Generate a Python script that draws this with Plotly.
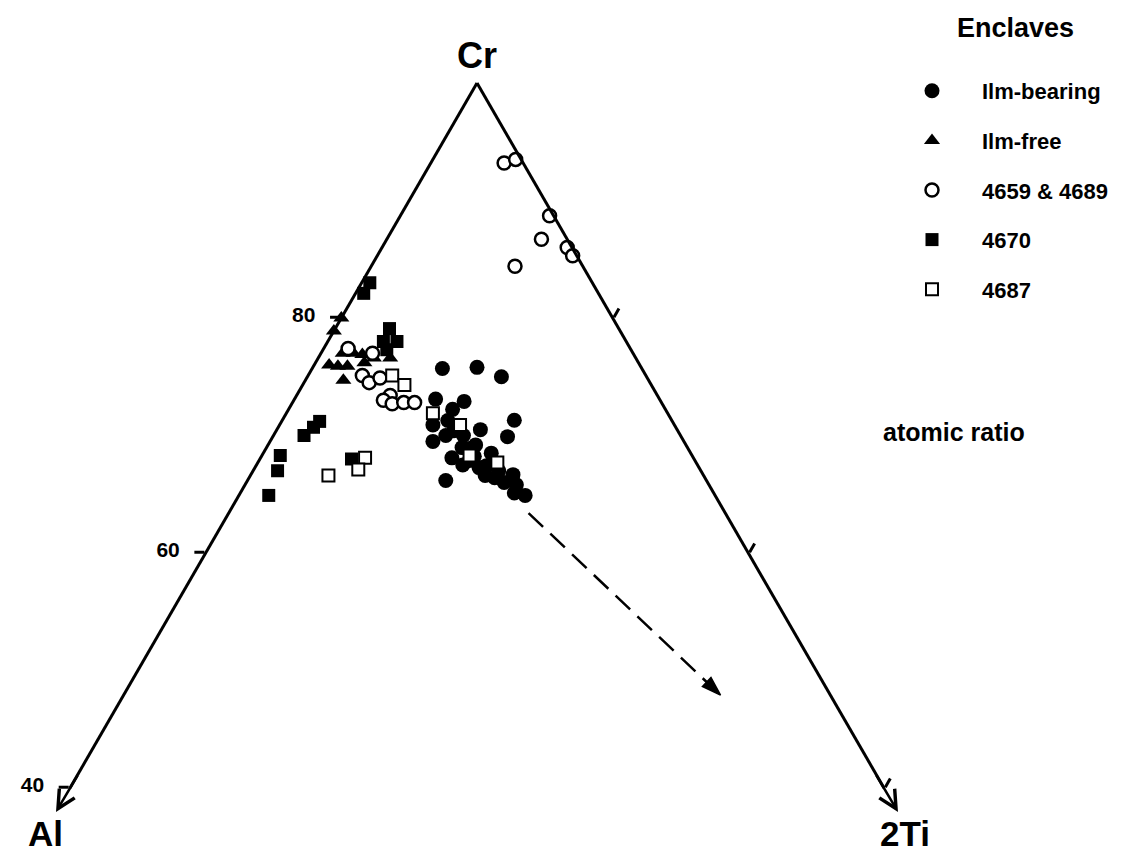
import plotly.graph_objects as go

# ---------------- data (Cr, Al, 2Ti in atomic %) ----------------
ilm_bearing_cr = [75.7, 75.8, 75.0, 73.1, 72.9, 72.3, 71.3, 70.9, 71.2, 69.5, 70.4, 70.0,
                  70.5, 69.9, 68.9, 69.2, 68.1, 67.8, 67.5, 67.2, 68.5, 67.5, 67.0, 66.6,
                  66.4, 66.6, 65.8, 65.1, 64.9, 66.1, 70.0, 68.9, 66.0, 68.3]
ilm_bearing_al = [14.7, 12.1, 10.7, 16.5, 14.5, 15.7, 11.6, 17.8, 16.5, 18.5, 16.5, 16.0,
                  14.5, 12.8, 16.6, 15.5, 17.8, 16.6, 17.3, 16.2, 14.7, 15.6, 14.9, 16.1,
                  15.5, 14.0, 14.2, 14.7, 14.0, 19.2, 17.3, 16.1, 15.0, 16.1]
ilm_bearing_ti = [9.6, 12.1, 14.3, 10.4, 12.6, 12.1, 17.1, 11.3, 12.2, 12.0, 13.1, 14.0,
                  15.0, 17.3, 14.4, 15.3, 14.1, 15.5, 15.2, 16.5, 16.8, 17.0, 18.1, 17.3,
                  18.1, 19.3, 20.0, 20.2, 21.1, 14.6, 12.7, 15.0, 19.0, 15.7]

ilm_free_cr = [80.0, 78.9, 77.0, 77.0, 76.9, 76.6, 76.6, 76.0, 75.9, 75.9, 74.7, 76.2]
ilm_free_al = [20.0, 21.1, 21.4, 20.6, 20.0, 19.3, 18.1, 22.9, 22.3, 21.6, 22.5, 20.2]
ilm_free_ti = [0.0, 0.0, 1.6, 2.4, 3.1, 4.1, 5.3, 1.1, 1.8, 2.5, 2.8, 3.6]

s4659_cr = [93.2, 93.5, 88.7, 86.7, 86.0, 85.3, 84.4, 77.4, 77.0, 75.1, 74.5, 74.9,
            73.4, 73.0, 72.7, 72.8, 72.8]
s4659_al = [1.4, 0.4, 0.3, 1.9, 0.35, 0.3, 5.0, 20.8, 19.2, 20.9, 20.7, 19.7,
            19.7, 20.4, 19.9, 19.0, 18.2]
s4659_ti = [5.4, 6.1, 11.0, 11.4, 13.65, 14.4, 10.6, 1.8, 3.8, 4.0, 4.8, 5.4,
            6.9, 6.6, 7.4, 8.2, 9.0]

s4670_cr = [83.0, 82.1, 79.1, 78.0, 78.0, 77.3, 71.2, 70.7, 70.0, 68.3, 67.0, 64.9, 68.0]
s4670_al = [16.4, 17.3, 16.9, 16.9, 17.9, 18.0, 26.0, 26.7, 27.75, 30.35, 31.2, 32.9, 25.25]
s4670_ti = [0.6, 0.6, 4.0, 5.1, 4.1, 4.7, 2.8, 2.6, 2.25, 1.35, 1.8, 2.2, 6.75]

s4687_cr = [75.1, 74.3, 71.9, 68.1, 67.1, 66.6, 70.9, 68.3, 67.7]
s4687_al = [18.7, 18.2, 17.3, 24.2, 25.2, 27.65, 15.8, 16.4, 14.65]
s4687_ti = [6.2, 7.5, 10.8, 7.7, 7.7, 5.75, 13.3, 15.3, 17.65]

trend_cr = [63.4, 47.9]
trend_al = [14.5, 8.1]
trend_ti = [22.1, 44.0]

cr_ticks = [40, 60, 80]
cr_ticklabels = ["40", "60", "80"]

# ---------------- layout constants ----------------
W, H = 1133, 855
FONT = "Liberation Sans, Arial, Helvetica, sans-serif"
dom_x = [70 / W, 884 / W]
dom_y = [1 - 788 / H, 1 - 83 / H]
PAD = "\u00a0\u00a0"

fig = go.Figure()

fig.add_trace(go.Scatterternary(
    a=trend_cr, b=trend_al, c=trend_ti, mode="lines+markers",
    line=dict(color="black", width=2.5, dash="20px,10px"),
    marker=dict(symbol=["circle", "arrow"], size=[0, 20], color="#000000",
                opacity=1, line=dict(width=1.5, color="#000000"), angleref="previous"),
    showlegend=False, hoverinfo="skip", cliponaxis=False))

common = dict(mode="markers", cliponaxis=False)

fig.add_trace(go.Scatterternary(
    a=ilm_bearing_cr, b=ilm_bearing_al, c=ilm_bearing_ti, name="Ilm-bearing",
    legendgroup="g1", legendrank=1,
    marker=dict(symbol="circle", size=15, color="black", line=dict(width=0)), **common))

fig.add_trace(go.Scatterternary(
    a=ilm_free_cr, b=ilm_free_al, c=ilm_free_ti, name="Ilm-free",
    legendgroup="g2", legendrank=2,
    marker=dict(symbol="triangle-up", size=14, color="black", line=dict(width=0)), **common))

fig.add_trace(go.Scatterternary(
    a=s4670_cr, b=s4670_al, c=s4670_ti, name="4670",
    legendgroup="g4", legendrank=4,
    marker=dict(symbol="square", size=13, color="black", line=dict(width=0)), **common))

fig.add_trace(go.Scatterternary(
    a=s4659_cr, b=s4659_al, c=s4659_ti, name="4659 &amp; 4689",
    legendgroup="g3", legendrank=3,
    marker=dict(symbol="circle", size=13, color="white",
                line=dict(width=2.5, color="black")), **common))

fig.add_trace(go.Scatterternary(
    a=s4687_cr, b=s4687_al, c=s4687_ti, name="4687",
    legendgroup="g5", legendrank=5,
    marker=dict(symbol="square", size=12, color="white",
                line=dict(width=2, color="black")), **common))

axis_font = dict(family=FONT, size=21, color="black", weight="bold")

fig.update_layout(
    width=W, height=H,
    margin=dict(l=0, r=0, t=0, b=0),
    paper_bgcolor="white", plot_bgcolor="white",
    ternary=dict(
        domain=dict(x=dom_x, y=dom_y),
        sum=100,
        bgcolor="white",
        aaxis=dict(min=40, showgrid=False, linecolor="black", linewidth=3,
                   ticks="outside", ticklen=10, tickwidth=2.5, tickcolor="black",
                   tickvals=cr_ticks, ticktext=[t + PAD for t in cr_ticklabels],
                   tickfont=axis_font, title=dict(text="")),
        baxis=dict(min=0, showline=False, showgrid=False, ticks="",
                   showticklabels=False, title=dict(text="")),
        caxis=dict(min=0, showgrid=False, linecolor="black", linewidth=3,
                   ticks="outside", ticklen=10, tickwidth=2.5, tickcolor="black",
                   tickvals=[20, 40, 60], showticklabels=False, title=dict(text="")),
    ),
    legend=dict(
        x=882 / W, y=1 - 70 / H, xanchor="left", yanchor="top",
        font=dict(family=FONT, size=22, color="black", weight="bold"),
        itemwidth=90, tracegroupgap=18, bgcolor="rgba(0,0,0,0)",
        traceorder="grouped",
    ),
    font=dict(family=FONT, color="black"),
)

def ann(text, px, py, size, **kw):
    fig.add_annotation(text=text, x=px / W, y=1 - py / H, xref="paper", yref="paper",
                       showarrow=False, xanchor="center", yanchor="middle",
                       font=dict(family=FONT, size=size, color="black", weight="bold"), **kw)

ann("Cr", 477, 55, 36)
ann("Al", 45, 833, 35)
ann("2Ti", 905, 833, 35)
ann("Enclaves", 1015, 28, 27)
ann("atomic ratio", 954, 432, 25)

# corner arrows extending the triangle sides
for sx, tip_dx in ((dom_x[0], -14), (dom_x[1], 14)):
    fig.add_annotation(x=sx + tip_dx / W, y=dom_y[0] - 24 / H, xref="paper", yref="paper",
                       ax=-tip_dx * 1.6, ay=-38, showarrow=True, arrowhead=5,
                       arrowsize=1.4, arrowwidth=2.5, arrowcolor="black", text="")

fig.write_html("out.html")
